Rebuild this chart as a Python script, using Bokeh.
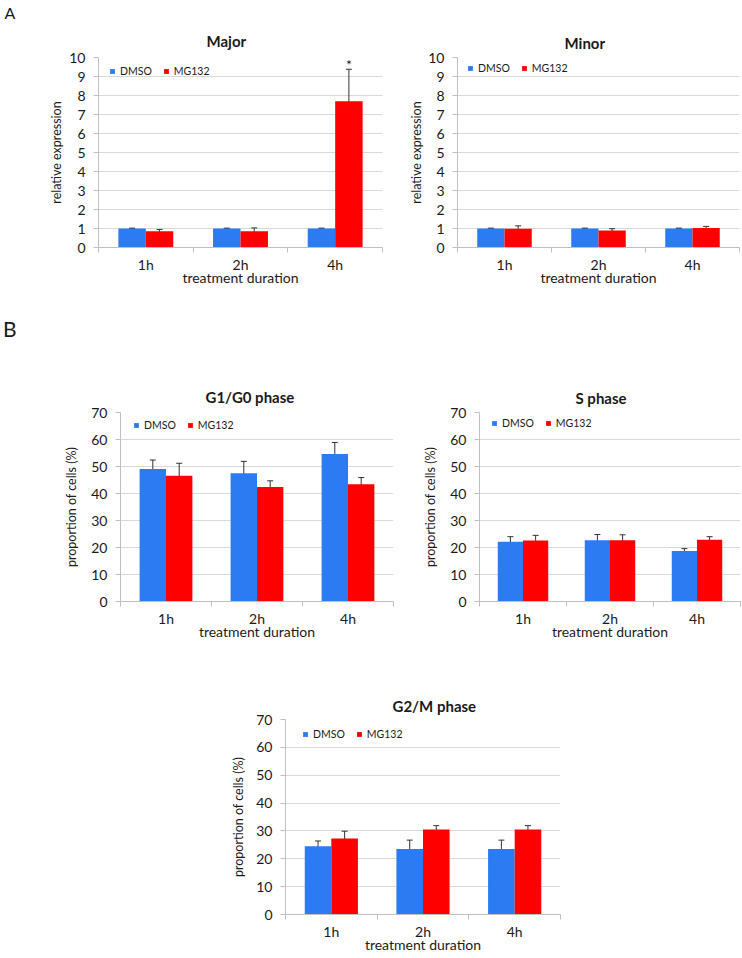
from bokeh.plotting import figure
from bokeh.models import (FactorRange, Range1d, LinearAxis, FixedTicker, Whisker, TeeHead,
                          ColumnDataSource, Legend, LegendItem, Title, Spacer, Div)
from bokeh.layouts import row, column
from bokeh.embed import file_html
from bokeh.resources import INLINE
from bokeh.core.properties import value

# ---------------- data ----------------
durations = ["1h", "2h", "4h"]
series = ["DMSO", "MG132"]

major_dmso = [1.0, 1.0, 1.0]
major_dmso_err = [0.02, 0.02, 0.02]
major_mg132 = [0.85, 0.85, 7.7]
major_mg132_err = [0.1, 0.18, 1.68]
major_sig = ["", "", "*"]

minor_dmso = [1.0, 1.0, 1.0]
minor_dmso_err = [0.02, 0.02, 0.02]
minor_mg132 = [0.99, 0.89, 1.03]
minor_mg132_err = [0.15, 0.1, 0.08]

g1_dmso = [49.1, 47.5, 54.6]
g1_dmso_err = [3.3, 4.4, 4.3]
g1_mg132 = [46.6, 42.4, 43.4]
g1_mg132_err = [4.6, 2.3, 2.5]

s_dmso = [22.1, 22.7, 18.7]
s_dmso_err = [1.9, 2.1, 0.9]
s_mg132 = [22.6, 22.7, 22.9]
s_mg132_err = [1.9, 2.0, 1.1]

g2_dmso = [24.5, 23.5, 23.5]
g2_dmso_err = [1.9, 3.2, 3.2]
g2_mg132 = [27.3, 30.5, 30.5]
g2_mg132_err = [2.6, 1.4, 1.4]

expr_ticks = list(range(0, 11))
prop_ticks = list(range(0, 71, 10))

# ---------------- style ----------------
FONT = "Lato"
BLUE = "#2B7BF3"
RED = "#FF0000"
ERR = "#333333"
GRID = "#D9D9D9"
AXC = "#BFBFBF"
TXT = "#1A1A1A"
OFF = 0.145
BW = 0.29
LEG_H = 13


def chart(title, dmso, dmso_err, mg, mg_err, yticks, ylabel,
          W, H, left, top, fw, fh, leg_x, leg_top, title_x, title_standoff,
          sig=None, ylab_standoff=2, panel_letter=None):
    p = figure(width=W, height=H,
               x_range=FactorRange(*durations),
               y_range=Range1d(yticks[0], yticks[-1]),
               x_axis_type=None, output_backend="svg", toolbar_location=None,
               title_location=None,
               min_border_left=left, min_border_top=top,
               min_border_right=W - left - fw, min_border_bottom=H - top - fh)
    p.outline_line_color = None
    p.background_fill_color = "white"
    p.border_fill_color = "white"

    src = ColumnDataSource(dict(
        xd=[(d, -OFF) for d in durations],
        xm=[(d, OFF) for d in durations],
        dmso=dmso, mg=mg,
        dmso_hi=[v + e for v, e in zip(dmso, dmso_err)],
        dmso_lo=[v - e for v, e in zip(dmso, dmso_err)],
        mg_hi=[v + e for v, e in zip(mg, mg_err)],
        mg_lo=[v - e for v, e in zip(mg, mg_err)],
        sig=sig if sig else [""] * len(durations),
    ))
    rd = p.vbar(x="xd", top="dmso", width=BW, source=src, fill_color=BLUE, line_color=None)
    rm = p.vbar(x="xm", top="mg", width=BW, source=src, fill_color=RED, line_color=None)

    for base, hi, lo in (("xd", "dmso_hi", "dmso_lo"), ("xm", "mg_hi", "mg_lo")):
        w = Whisker(source=src, base=base, upper=hi, lower=lo,
                    line_color=ERR, line_width=1,
                    upper_head=TeeHead(size=6, line_color=ERR, line_width=1),
                    lower_head=TeeHead(size=6, line_color=ERR, line_width=1))
        p.add_layout(w)

    if sig:
        p.text(x="xm", y="mg_hi", text="sig", source=src, text_align="center",
               text_baseline="bottom", text_font=value(FONT), text_font_size="14px",
               text_color=TXT, y_offset=4)

    legend = Legend(items=[LegendItem(label=series[0], renderers=[rd]),
                           LegendItem(label=series[1], renderers=[rm])],
                    orientation="horizontal",
                    location=(leg_x, fh - leg_top - LEG_H),
                    glyph_width=6, glyph_height=6, label_height=6, label_width=6,
                    label_standoff=5, spacing=11, padding=0, margin=0,
                    border_line_color=None, background_fill_alpha=0,
                    label_text_font=FONT, label_text_font_size="10.5px",
                    label_text_color=TXT)
    p.add_layout(legend)

    # x axis: labels centred, ticks on category boundaries
    n = len(durations)
    xa = LinearAxis(ticker=FixedTicker(ticks=[i + 0.5 for i in range(n)],
                                       minor_ticks=list(range(n + 1))),
                    major_label_overrides={i + 0.5: d for i, d in enumerate(durations)},
                    axis_label="treatment duration")
    xa.axis_line_color = AXC
    xa.major_tick_line_color = None
    xa.major_tick_out = 0
    xa.major_tick_in = 0
    xa.minor_tick_line_color = AXC
    xa.minor_tick_out = 5
    xa.minor_tick_in = 0
    xa.major_label_standoff = 3
    xa.major_label_text_font = FONT
    xa.major_label_text_font_size = "14px"
    xa.major_label_text_color = TXT
    xa.axis_label_text_font = FONT
    xa.axis_label_text_font_size = "14px"
    xa.axis_label_text_font_style = "normal"
    xa.axis_label_text_color = TXT
    xa.axis_label_standoff = -7
    p.add_layout(xa, "below")

    ya = p.yaxis[0]
    ya.ticker = FixedTicker(ticks=yticks)
    ya.axis_line_color = AXC
    ya.major_tick_line_color = AXC
    ya.major_tick_out = 5
    ya.major_tick_in = 0
    ya.minor_tick_line_color = None
    ya.major_label_standoff = 8
    ya.major_label_text_font = FONT
    ya.major_label_text_font_size = "14px"
    ya.major_label_text_color = TXT
    ya.axis_label = ylabel
    ya.axis_label_text_font = FONT
    ya.axis_label_text_font_size = "12.5px"
    ya.axis_label_text_font_style = "normal"
    ya.axis_label_text_color = TXT
    ya.axis_label_standoff = ylab_standoff
    p.ygrid.grid_line_color = GRID

    # chart title (closest to the frame)
    p.add_layout(Title(text=title, align="left", offset=title_x - left,
                       standoff=title_standoff, text_font=FONT, text_font_size="15px",
                       text_font_style="bold", text_color=TXT), "above")
    # panel letter (stacked above the title)
    if panel_letter:
        letter, size, standoff = panel_letter
        p.add_layout(Title(text=letter, align="left", offset=4 - left,
                           standoff=standoff, text_font=FONT, text_font_size=size,
                           text_font_style="normal", text_color=TXT), "above")
    return p


major = chart("Major", major_dmso, major_dmso_err, major_mg132, major_mg132_err,
              expr_ticks, "relative expression",
              W=405, H=300, left=98, top=57, fw=284, fh=190,
              leg_x=11, leg_top=7, title_x=206, title_standoff=16, sig=major_sig,
              ylab_standoff=2, panel_letter=("A", "16px", 0))

minor = chart("Minor", minor_dmso, minor_dmso_err, minor_mg132, minor_mg132_err,
              expr_ticks, "relative expression",
              W=337, H=300, left=52, top=57, fw=282, fh=191,
              leg_x=10, leg_top=5, title_x=564 - 405, title_standoff=12,
              ylab_standoff=1)

letter_b = Div(text="B", width=742, height=40, margin=0,
               styles={"font-family": FONT, "font-size": "21px", "color": TXT,
                       "line-height": "1.2", "padding-left": "3px", "padding-top": "16px",
                       "box-sizing": "border-box"})

g1 = chart("G1/G0 phase", g1_dmso, g1_dmso_err, g1_mg132, g1_mg132_err,
           prop_ticks, "proportion of cells (%)",
           W=420, H=348, left=120, top=72, fw=273, fh=189,
           leg_x=13, leg_top=6, title_x=205, title_standoff=13, ylab_standoff=9)

sph = chart("S phase", s_dmso, s_dmso_err, s_mg132, s_mg132_err,
            prop_ticks, "proportion of cells (%)",
            W=322, H=348, left=50, top=72, fw=270, fh=196,
            leg_x=12, leg_top=11, title_x=566 - 420, title_standoff=11, ylab_standoff=9)

g2 = chart("G2/M phase", g2_dmso, g2_dmso_err, g2_mg132, g2_mg132_err,
           prop_ticks, "proportion of cells (%)",
           W=400, H=270, left=85, top=31, fw=275, fh=195,
           leg_x=17, leg_top=8, title_x=392 - 200, title_standoff=10, ylab_standoff=7)

layout = column(row(major, minor),
                letter_b,
                row(g1, sph),
                row(Spacer(width=200, height=270), g2))

open("out.html", "w").write(file_html(layout, INLINE))
